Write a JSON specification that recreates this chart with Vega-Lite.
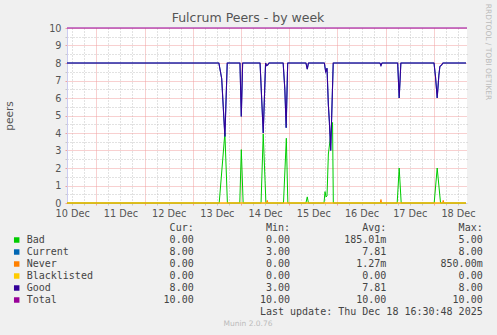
{
  "$schema": "https://vega.github.io/schema/vega-lite/v6.json",
  "width": 400,
  "height": 175,
  "autosize": {"type": "none"},
  "padding": {"left": 67, "top": 28, "right": 30, "bottom": 132},
  "background": "#f0f0f0",
  "view": {"fill": "#ffffff", "stroke": null},
  "config": {"font": "DejaVu Sans"},
  "title": {"text": "Fulcrum Peers - by week", "font": "DejaVu Sans", "fontSize": 12.5, "fontWeight": "normal", "color": "#555555", "frame": "group", "offset": 2, "dx": -19, "dy": 23},
  "datasets": {
    "peers": [
      {"series": "Good", "t": "2025-12-10T09:25", "v": 8},
      {"series": "Good", "t": "2025-12-13T13:00", "v": 8},
      {"series": "Good", "t": "2025-12-13T14:25", "v": 7.1},
      {"series": "Good", "t": "2025-12-13T16:00", "v": 3.8},
      {"series": "Good", "t": "2025-12-13T17:10", "v": 8},
      {"series": "Good", "t": "2025-12-13T23:30", "v": 8},
      {"series": "Good", "t": "2025-12-14T00:10", "v": 4.95},
      {"series": "Good", "t": "2025-12-14T00:50", "v": 8},
      {"series": "Good", "t": "2025-12-14T09:30", "v": 8},
      {"series": "Good", "t": "2025-12-14T11:05", "v": 4.0},
      {"series": "Good", "t": "2025-12-14T12:15", "v": 8},
      {"series": "Good", "t": "2025-12-14T12:45", "v": 7.85},
      {"series": "Good", "t": "2025-12-14T13:25", "v": 7.9},
      {"series": "Good", "t": "2025-12-14T13:55", "v": 8},
      {"series": "Good", "t": "2025-12-14T21:00", "v": 8},
      {"series": "Good", "t": "2025-12-14T21:50", "v": 6.5},
      {"series": "Good", "t": "2025-12-14T22:30", "v": 4.3},
      {"series": "Good", "t": "2025-12-14T23:15", "v": 8},
      {"series": "Good", "t": "2025-12-15T08:20", "v": 8},
      {"series": "Good", "t": "2025-12-15T09:00", "v": 7.65},
      {"series": "Good", "t": "2025-12-15T09:35", "v": 8},
      {"series": "Good", "t": "2025-12-15T17:30", "v": 8},
      {"series": "Good", "t": "2025-12-15T18:10", "v": 7.5},
      {"series": "Good", "t": "2025-12-15T18:50", "v": 7.7},
      {"series": "Good", "t": "2025-12-15T19:30", "v": 5.6},
      {"series": "Good", "t": "2025-12-15T20:00", "v": 4.65},
      {"series": "Good", "t": "2025-12-15T20:40", "v": 3.0},
      {"series": "Good", "t": "2025-12-15T21:55", "v": 8},
      {"series": "Good", "t": "2025-12-16T21:10", "v": 8},
      {"series": "Good", "t": "2025-12-16T21:40", "v": 7.85},
      {"series": "Good", "t": "2025-12-16T22:10", "v": 8},
      {"series": "Good", "t": "2025-12-17T06:00", "v": 8},
      {"series": "Good", "t": "2025-12-17T06:45", "v": 6.0},
      {"series": "Good", "t": "2025-12-17T07:35", "v": 8},
      {"series": "Good", "t": "2025-12-18T00:05", "v": 8},
      {"series": "Good", "t": "2025-12-18T00:50", "v": 7.2},
      {"series": "Good", "t": "2025-12-18T01:40", "v": 6.0},
      {"series": "Good", "t": "2025-12-18T02:30", "v": 7.3},
      {"series": "Good", "t": "2025-12-18T03:00", "v": 7.8},
      {"series": "Good", "t": "2025-12-18T03:30", "v": 7.85},
      {"series": "Good", "t": "2025-12-18T04:00", "v": 7.9},
      {"series": "Good", "t": "2025-12-18T04:30", "v": 8},
      {"series": "Good", "t": "2025-12-18T16:00", "v": 8},
      {"series": "Bad", "t": "2025-12-10T09:25", "v": 0},
      {"series": "Bad", "t": "2025-12-13T13:10", "v": 0},
      {"series": "Bad", "t": "2025-12-13T16:00", "v": 4.0},
      {"series": "Bad", "t": "2025-12-13T17:15", "v": 0},
      {"series": "Bad", "t": "2025-12-13T23:25", "v": 0},
      {"series": "Bad", "t": "2025-12-14T00:10", "v": 3.05},
      {"series": "Bad", "t": "2025-12-14T01:05", "v": 0},
      {"series": "Bad", "t": "2025-12-14T10:00", "v": 0},
      {"series": "Bad", "t": "2025-12-14T11:05", "v": 3.95},
      {"series": "Bad", "t": "2025-12-14T12:25", "v": 0},
      {"series": "Bad", "t": "2025-12-14T21:10", "v": 0},
      {"series": "Bad", "t": "2025-12-14T22:35", "v": 3.7},
      {"series": "Bad", "t": "2025-12-14T23:20", "v": 0},
      {"series": "Bad", "t": "2025-12-15T08:20", "v": 0},
      {"series": "Bad", "t": "2025-12-15T09:00", "v": 0.35},
      {"series": "Bad", "t": "2025-12-15T09:35", "v": 0},
      {"series": "Bad", "t": "2025-12-15T17:20", "v": 0},
      {"series": "Bad", "t": "2025-12-15T17:50", "v": 0.65},
      {"series": "Bad", "t": "2025-12-15T18:20", "v": 0.35},
      {"series": "Bad", "t": "2025-12-15T18:50", "v": 0.4},
      {"series": "Bad", "t": "2025-12-15T19:30", "v": 2.8},
      {"series": "Bad", "t": "2025-12-15T20:40", "v": 3.9},
      {"series": "Bad", "t": "2025-12-15T21:35", "v": 4.6},
      {"series": "Bad", "t": "2025-12-15T21:58", "v": 0},
      {"series": "Bad", "t": "2025-12-17T05:45", "v": 0},
      {"series": "Bad", "t": "2025-12-17T06:45", "v": 2.0},
      {"series": "Bad", "t": "2025-12-17T07:45", "v": 0},
      {"series": "Bad", "t": "2025-12-18T00:10", "v": 0},
      {"series": "Bad", "t": "2025-12-18T01:40", "v": 2.0},
      {"series": "Bad", "t": "2025-12-18T03:20", "v": 0},
      {"series": "Bad", "t": "2025-12-18T16:00", "v": 0},
      {"series": "Never", "t": "2025-12-10T09:25", "v": 0},
      {"series": "Never", "t": "2025-12-14T12:45", "v": 0},
      {"series": "Never", "t": "2025-12-14T13:05", "v": 0.15},
      {"series": "Never", "t": "2025-12-14T13:25", "v": 0},
      {"series": "Never", "t": "2025-12-16T21:20", "v": 0},
      {"series": "Never", "t": "2025-12-16T21:40", "v": 0.2},
      {"series": "Never", "t": "2025-12-16T22:00", "v": 0},
      {"series": "Never", "t": "2025-12-18T04:20", "v": 0},
      {"series": "Never", "t": "2025-12-18T04:40", "v": 0.15},
      {"series": "Never", "t": "2025-12-18T05:00", "v": 0},
      {"series": "Never", "t": "2025-12-18T16:00", "v": 0},
      {"series": "Blacklisted", "t": "2025-12-10T09:25", "v": 0},
      {"series": "Blacklisted", "t": "2025-12-18T16:00", "v": 0},
      {"series": "Total", "t": "2025-12-10T09:25", "v": 10},
      {"series": "Total", "t": "2025-12-18T16:30", "v": 10}
    ],
    "legendRows": [
      {"series": "Bad", "Cur": "0.00\u00a0", "Min": "0.00\u00a0", "Avg": "185.01m", "Max": "5.00\u00a0"},
      {"series": "Current", "Cur": "8.00\u00a0", "Min": "3.00\u00a0", "Avg": "7.81\u00a0", "Max": "8.00\u00a0"},
      {"series": "Never", "Cur": "0.00\u00a0", "Min": "0.00\u00a0", "Avg": "1.27m", "Max": "850.00m"},
      {"series": "Blacklisted", "Cur": "0.00\u00a0", "Min": "0.00\u00a0", "Avg": "0.00\u00a0", "Max": "0.00\u00a0"},
      {"series": "Good", "Cur": "8.00\u00a0", "Min": "3.00\u00a0", "Avg": "7.81\u00a0", "Max": "8.00\u00a0"},
      {"series": "Total", "Cur": "10.00\u00a0", "Min": "10.00\u00a0", "Avg": "10.00\u00a0", "Max": "10.00\u00a0"}
    ],
    "headRows": [
      {"row": "hdr", "col": "Cur", "txt": "Cur:\u00a0\u00a0"},
      {"row": "hdr", "col": "Min", "txt": "Min:\u00a0\u00a0"},
      {"row": "hdr", "col": "Avg", "txt": "Avg:\u00a0\u00a0"},
      {"row": "hdr", "col": "Max", "txt": "Max:\u00a0\u00a0"},
      {"row": "upd", "col": "Max", "txt": "Last update: Thu Dec 18 16:30:48 2025"}
    ]
  },
  "layer": [
    {
      "data": {"name": "peers"},
      "encoding": {
        "x": {
          "field": "t", "type": "temporal",
          "axis": {
            "title": null,
            "tickCount": 33,
            "labelExpr": "hours(datum.value) == 12 ? timeFormat(datum.value, '%d %b') : ''",
            "labelOverlap": false, "labelFlush": false, "labelBound": false,
            "labelFont": "DejaVu Sans", "labelFontSize": 9.7, "labelColor": "#555555", "labelPadding": 3,
            "ticks": true, "tickSize": 2,
            "tickColor": {"condition": {"test": "hours(datum.value) == 0", "value": "#f0a0a0"}, "value": "#c8c8c8"},
            "grid": true,
            "gridColor": {"condition": {"test": "hours(datum.value) == 0", "value": "#f0a0a0"}, "value": "#c4c4c4"},
            "gridDash": {"condition": {"test": "hours(datum.value) == 0", "value": [1, 1]}, "value": [1, 2]},
            "domainColor": "#ccccf0"
          }
        },
        "y": {
          "field": "v", "type": "quantitative",
          "scale": {"domain": [0, 10]},
          "axis": {
            "title": "peers", "titleFont": "DejaVu Sans", "titleFontSize": 10.5, "titleFontWeight": "normal", "titleColor": "#555555",
            "titlePadding": 34,
            "values": [0, 0.5, 1, 1.5, 2, 2.5, 3, 3.5, 4, 4.5, 5, 5.5, 6, 6.5, 7, 7.5, 8, 8.5, 9, 9.5, 10],
            "labelExpr": "datum.value % 1 == 0 ? format(datum.value, 'd') : ''",
            "labelOverlap": false, "labelBound": false, "labelFlush": false,
            "labelFont": "DejaVu Sans", "labelFontSize": 9.7, "labelColor": "#555555", "labelPadding": 4,
            "ticks": true, "tickSize": 2,
            "tickColor": {"condition": {"test": "datum.value % 1 == 0", "value": "#f0a0a0"}, "value": "#c8c8c8"},
            "grid": true,
            "gridColor": {"condition": {"test": "datum.value % 1 == 0", "value": "#f0a0a0"}, "value": "#c4c4c4"},
            "gridDash": {"condition": {"test": "datum.value % 1 == 0", "value": [1, 1]}, "value": [1, 2]},
            "domainColor": "#ccccf0"
          }
        },
        "color": {"field": "series", "type": "nominal", "scale": {"domain": ["Bad", "Current", "Never", "Blacklisted", "Good", "Total"], "range": ["#00cc00", "#0066b3", "#ff8000", "#ffcc00", "#330099", "#990099"]}, "legend": null}
      },
      "layer": [
        {"transform": [{"filter": "datum.series == 'Bad'"}], "mark": {"type": "line", "strokeWidth": 1}, "encoding": {}},
        {"transform": [{"filter": "datum.series == 'Good'"}], "mark": {"type": "line", "strokeWidth": 1}, "encoding": {"color": {"value": "#0066b3"}}},
        {"transform": [{"filter": "datum.series == 'Never'"}], "mark": {"type": "line", "strokeWidth": 1}, "encoding": {}},
        {"transform": [{"filter": "datum.series == 'Blacklisted'"}], "mark": {"type": "line", "strokeWidth": 1}, "encoding": {}},
        {"transform": [{"filter": "datum.series == 'Good'"}], "mark": {"type": "line", "strokeWidth": 1.1}, "encoding": {}},
        {"transform": [{"filter": "datum.series == 'Total'"}], "mark": {"type": "line", "strokeWidth": 1.2}, "encoding": {}}
      ]
    },
    {
      "data": {"name": "legendRows"},
      "mark": {"type": "square", "filled": true, "size": 30, "opacity": 1},
      "encoding": {
        "x": {"datum": "sw", "type": "nominal", "scale": {"type": "point", "domain": ["sw", "nm"], "range": [-50.3, -40.3], "padding": 0}, "axis": null},
        "y": {"field": "series", "type": "nominal", "scale": {"type": "point", "domain": ["hdr", "Bad", "Current", "Never", "Blacklisted", "Good", "Total", "upd", "ver"], "range": [200, 296], "padding": 0}, "axis": null},
        "color": {"field": "series", "type": "nominal", "scale": {"domain": ["Bad", "Current", "Never", "Blacklisted", "Good", "Total"], "range": ["#00cc00", "#0066b3", "#ff8000", "#ffcc00", "#330099", "#990099"]}, "legend": null}
      }
    },
    {
      "data": {"name": "legendRows"},
      "mark": {"type": "text", "align": "left", "baseline": "middle", "font": "DejaVu Sans Mono", "fontSize": 10, "color": "#444444"},
      "encoding": {
        "x": {"datum": "nm", "type": "nominal", "scale": {"type": "point", "domain": ["sw", "nm"], "range": [-50.3, -40.3], "padding": 0}, "axis": null},
        "y": {"field": "series", "type": "nominal", "scale": {"type": "point", "domain": ["hdr", "Bad", "Current", "Never", "Blacklisted", "Good", "Total", "upd", "ver"], "range": [200, 296], "padding": 0}, "axis": null},
        "text": {"field": "series"}
      }
    },
    {
      "data": {"name": "legendRows"},
      "transform": [{"fold": ["Cur", "Min", "Avg", "Max"], "as": ["col", "txt"]}],
      "mark": {"type": "text", "align": "right", "baseline": "middle", "font": "DejaVu Sans Mono", "fontSize": 10, "color": "#444444"},
      "encoding": {
        "x": {"field": "col", "type": "nominal", "scale": {"type": "point", "domain": ["Cur", "Min", "Avg", "Max"], "range": [126.7, 415.7], "padding": 0}, "axis": null},
        "y": {"field": "series", "type": "nominal", "scale": {"type": "point", "domain": ["hdr", "Bad", "Current", "Never", "Blacklisted", "Good", "Total", "upd", "ver"], "range": [200, 296], "padding": 0}, "axis": null},
        "text": {"field": "txt"}
      }
    },
    {
      "data": {"name": "headRows"},
      "mark": {"type": "text", "align": "right", "baseline": "middle", "font": "DejaVu Sans Mono", "fontSize": 10, "color": "#444444"},
      "encoding": {
        "x": {"field": "col", "type": "nominal", "scale": {"type": "point", "domain": ["Cur", "Min", "Avg", "Max"], "range": [126.7, 415.7], "padding": 0}, "axis": null},
        "y": {"field": "row", "type": "nominal", "scale": {"type": "point", "domain": ["hdr", "Bad", "Current", "Never", "Blacklisted", "Good", "Total", "upd", "ver"], "range": [200, 296], "padding": 0}, "axis": null},
        "text": {"field": "txt"}
      }
    },
    {
      "data": {"values": [{"txt": "Munin 2.0.76"}]},
      "mark": {"type": "text", "align": "center", "baseline": "middle", "font": "DejaVu Sans", "fontSize": 7.5, "color": "#bbbbbb"},
      "encoding": {
        "x": {"datum": "ver", "type": "nominal", "scale": {"type": "point", "domain": ["ver"], "range": [171, 191]}, "axis": null},
        "y": {"datum": "ver", "type": "nominal", "scale": {"type": "point", "domain": ["hdr", "Bad", "Current", "Never", "Blacklisted", "Good", "Total", "upd", "ver"], "range": [200, 296], "padding": 0}, "axis": null},
        "text": {"field": "txt"}
      }
    },
    {
      "data": {"values": [{"txt": "RRDTOOL / TOBI OETIKER"}]},
      "mark": {"type": "text", "angle": 90, "align": "center", "baseline": "middle", "font": "DejaVu Sans", "fontSize": 7.5, "color": "#bbbbbb"},
      "encoding": {
        "x": {"datum": "rrd", "type": "nominal", "scale": {"type": "point", "domain": ["rrd"], "range": [411, 431]}, "axis": null},
        "y": {"datum": "rrd", "type": "nominal", "scale": {"type": "point", "domain": ["rrd"], "range": [14, 34]}, "axis": null},
        "text": {"field": "txt"}
      }
    }
  ],
  "resolve": {"scale": {"x": "independent", "y": "independent"}}
}
